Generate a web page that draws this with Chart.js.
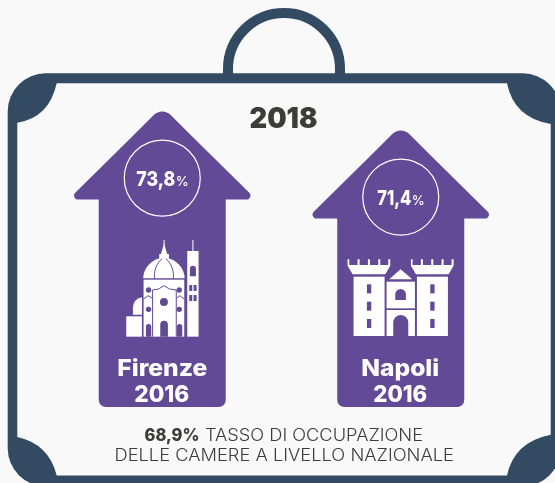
<!DOCTYPE html>
<html lang="it">
<head>
<meta charset="utf-8">
<title>Tasso di occupazione</title>
<script src="https://cdn.jsdelivr.net/npm/chart.js@4"></script>
<style>
html,body{margin:0;padding:0;background:#f9f9f9;}
canvas{display:block;}
</style>
</head>
<body>
<canvas id="c" width="555" height="483"></canvas>
<script>
const cities = ['Firenze', 'Napoli'];
const years = ['2016', '2016'];
const occupancy = [73.8, 71.4];
const nationalRate = [68.9];
const headline = ['2018'];
const footerLines = ['TASSO DI OCCUPAZIONE', 'DELLE CAMERE A LIVELLO NAZIONALE'];
const axisMin = 36.4;
const axisMax = 81.6;

const PURPLE = '#634a97', NAVY = '#334a63', INK = '#3c3c3b', PAPER = '#f9f9f9';
const FAMILY = 'Inter, "Open Sans", sans-serif';
const fmt = v => v.toFixed(1).replace('.', ',');

function fitText(ctx, text, left, baseline, width, font, color) {
  ctx.save();
  ctx.font = font;
  ctx.fillStyle = color;
  ctx.textAlign = 'left';
  ctx.textBaseline = 'alphabetic';
  const w = ctx.measureText(text).width;
  ctx.translate(left, baseline);
  ctx.scale(width / w, 1);
  ctx.fillText(text, 0, 0);
  ctx.restore();
}

class ArrowElement extends Chart.BarElement {
  draw(ctx) {
    const { x, y, base, width } = this.getProps(['x', 'y', 'base', 'width']);
    const half = width / 2, headHalf = 94, neck = y + 88, apex = y - 5;
    ctx.save();
    ctx.fillStyle = this.options.backgroundColor;
    ctx.beginPath();
    ctx.moveTo(x + 30, apex + 30);
    ctx.arcTo(x + headHalf, neck, x + half, neck, 4);
    ctx.lineTo(x + half, neck);
    ctx.arcTo(x + half, base, x - half, base, 7);
    ctx.arcTo(x - half, base, x - half, neck, 7);
    ctx.lineTo(x - half, neck);
    ctx.arcTo(x - headHalf, neck, x - 30, apex + 30, 4);
    ctx.lineTo(x - 30, apex + 30);
    ctx.arcTo(x, apex, x + 30, apex + 30, 12);
    ctx.closePath();
    ctx.fill();
    ctx.restore();
  }
}
ArrowElement.id = 'arrowElement';
ArrowElement.defaults = Chart.BarElement.defaults;

class ArrowController extends Chart.BarController {}
ArrowController.id = 'arrowBar';
ArrowController.defaults = Object.assign({}, Chart.BarController.defaults, { dataElementType: 'arrowElement' });
ArrowController.overrides = Chart.BarController.overrides;
Chart.register(ArrowElement, ArrowController);

function rect(ctx, a, b, c, d) { ctx.fillRect(a, b, c - a, d - b); }
function archWindow(ctx, x0, x1, top, bottom) {
  const r = (x1 - x0) / 2;
  ctx.beginPath();
  ctx.moveTo(x0, bottom);
  ctx.lineTo(x0, top + r);
  ctx.arc(x0 + r, top + r, r, Math.PI, 0);
  ctx.lineTo(x1, bottom);
  ctx.closePath();
  ctx.fill();
}
function dot(ctx, x, y, r) { ctx.beginPath(); ctx.arc(x, y, r, 0, Math.PI * 2); ctx.fill(); }

// Icon units are thirds of a pixel
function drawCathedral(ctx) {
  ctx.fillStyle = '#fff';
  ctx.fillRect(130, 15, 3, 16);
  ctx.beginPath(); ctx.moveTo(131.5, 25); ctx.lineTo(141, 58); ctx.lineTo(122, 58); ctx.closePath(); ctx.fill();
  rect(ctx, 117, 57, 146, 72);
  ctx.beginPath();
  ctx.moveTo(69, 130);
  ctx.bezierCurveTo(69, 95, 100, 68, 131, 68);
  ctx.bezierCurveTo(162, 68, 193, 95, 193, 130);
  ctx.closePath(); ctx.fill();
  rect(ctx, 70, 134, 192, 305);
  // apse
  ctx.beginPath(); ctx.moveTo(38, 239); ctx.lineTo(38, 218); ctx.quadraticCurveTo(40, 192, 65, 187); ctx.lineTo(65, 239); ctx.closePath(); ctx.fill();
  rect(ctx, 18, 244, 65, 305);
  // campanile
  rect(ctx, 216.5, 15, 219.5, 48);
  rect(ctx, 201, 48, 235, 305);
  // purple details
  ctx.fillStyle = PURPLE;
  ctx.strokeStyle = PURPLE;
  ctx.lineWidth = 3;
  ctx.beginPath(); ctx.moveTo(103, 132); ctx.bezierCurveTo(100, 110, 108, 85, 125, 71); ctx.moveTo(159, 132); ctx.bezierCurveTo(162, 110, 154, 85, 137, 71); ctx.stroke();
  ctx.beginPath();
  ctx.moveTo(97, 305); ctx.lineTo(97, 165); ctx.lineTo(115, 162); ctx.lineTo(131, 152); ctx.lineTo(148, 162); ctx.lineTo(168, 165); ctx.lineTo(168, 305);
  ctx.moveTo(70, 192); ctx.lineTo(83, 182); ctx.lineTo(97, 190);
  ctx.moveTo(168, 190); ctx.lineTo(179, 182); ctx.lineTo(192, 192);
  ctx.stroke();
  dot(ctx, 131, 201, 12);
  dot(ctx, 85, 165, 8); dot(ctx, 177, 165, 8); dot(ctx, 85, 223, 8); dot(ctx, 177, 223, 8);
  archWindow(ctx, 120, 143, 257, 305);
  archWindow(ctx, 77, 93, 267, 305);
  archWindow(ctx, 170, 186, 267, 305);
  archWindow(ctx, 209, 227, 92, 124);
  rect(ctx, 207, 150, 216, 168); rect(ctx, 220, 150, 229, 168);
  rect(ctx, 207, 180, 216, 198); rect(ctx, 220, 180, 229, 198);
}
function drawCrown(ctx, o) {
  ctx.fillStyle = '#fff';
  ctx.beginPath();
  ctx.moveTo(o, 28); ctx.lineTo(o + 5, 28); ctx.lineTo(o + 5, 45); ctx.lineTo(o + 30, 45); ctx.lineTo(o + 30, 28); ctx.lineTo(o + 36, 28);
  ctx.lineTo(o + 36, 45); ctx.lineTo(o + 61, 45); ctx.lineTo(o + 61, 28); ctx.lineTo(o + 67, 28); ctx.lineTo(o + 67, 45);
  ctx.lineTo(o + 92, 45); ctx.lineTo(o + 92, 28); ctx.lineTo(o + 98, 28); ctx.lineTo(o + 98, 45); ctx.lineTo(o + 122, 45); ctx.lineTo(o + 122, 28); ctx.lineTo(o + 128, 28);
  ctx.lineTo(o + 128, 47); ctx.lineTo(o + 113, 73); ctx.lineTo(o + 15, 73); ctx.lineTo(o, 47);
  ctx.closePath(); ctx.fill();
}
function drawCastle(ctx) {
  drawCrown(ctx, 22);
  drawCrown(ctx, 212);
  ctx.fillStyle = '#fff';
  rect(ctx, 40, 80, 133, 258);
  rect(ctx, 230, 80, 323, 258);
  rect(ctx, 139, 95, 224, 175);
  rect(ctx, 139, 180, 224, 258);
  ctx.beginPath(); ctx.moveTo(181, 58); ctx.lineTo(216, 88); ctx.lineTo(147, 88); ctx.closePath(); ctx.fill();
  ctx.fillStyle = PURPLE;
  [103, 155, 207].forEach(t => { rect(ctx, 80, t, 93, t + 27); rect(ctx, 270, t, 283, t + 27); });
  ctx.beginPath(); ctx.moveTo(165, 150); ctx.lineTo(165, 133); ctx.arc(181, 133, 16, Math.PI, 0); ctx.lineTo(197, 150); ctx.closePath(); ctx.fill();
  archWindow(ctx, 159, 204, 195, 258);
}
const icons = [
  { draw: drawCathedral, dx: -42, dy: -172 },
  { draw: drawCastle, dx: -60.5, dy: -157 }
];
const labelLayout = [
  { nameL: -45, nameW: 90, yearL: -28, yearW: 55, pctL: -26, pctW: 39, pctSignW: 13 },
  { nameL: -39.5, nameW: 78, yearL: -27.5, yearW: 54, pctL: -23.5, pctW: 34, pctSignW: 13 }
];

const decorPlugin = {
  id: 'suitcase',
  beforeDraw(chart) {
    const ctx = chart.ctx;
    ctx.save();
    ctx.fillStyle = PAPER;
    ctx.fillRect(0, 0, chart.width, chart.height);
    // handle
    ctx.strokeStyle = NAVY;
    ctx.lineWidth = 10;
    ctx.beginPath();
    ctx.moveTo(228, 78);
    ctx.lineTo(228, 69);
    ctx.arc(284, 69, 56, Math.PI, 0);
    ctx.lineTo(340, 78);
    ctx.stroke();
    // shell
    ctx.fillStyle = NAVY;
    ctx.beginPath();
    ctx.roundRect(7.7, 73.3, 553, 413, 38);
    ctx.fill();
    ctx.fillStyle = PAPER;
    ctx.beginPath();
    ctx.moveTo(56.7, 83.3);
    ctx.lineTo(507, 83.3);
    ctx.quadraticCurveTo(514, 118, 550.7, 124);
    ctx.lineTo(550.7, 434.7);
    ctx.quadraticCurveTo(514, 442, 507, 475.5);
    ctx.lineTo(56.7, 475.5);
    ctx.quadraticCurveTo(49, 444, 17.3, 437);
    ctx.lineTo(17.3, 122.7);
    ctx.quadraticCurveTo(49, 118, 56.7, 83.3);
    ctx.closePath();
    ctx.fill();
    ctx.restore();
  },
  afterDatasetsDraw(chart) {
    const ctx = chart.ctx;
    const bars = chart.getDatasetMeta(0).data;
    bars.forEach((bar, i) => {
      const L = labelLayout[i];
      const ic = icons[i];
      ctx.save();
      ctx.translate(bar.x + ic.dx, bar.base + ic.dy);
      ctx.scale(1 / 3, 1 / 3);
      ic.draw(ctx);
      ctx.restore();

      const cy = bar.y + 66.5;
      ctx.save();
      ctx.strokeStyle = '#fff';
      ctx.lineWidth = 1.2;
      ctx.beginPath();
      ctx.arc(bar.x, cy, 38, 0, Math.PI * 2);
      ctx.stroke();
      ctx.restore();

      fitText(ctx, fmt(occupancy[i]), bar.x + L.pctL, cy + 7.5, L.pctW, '800 20.5px ' + FAMILY, '#fff');
      fitText(ctx, '%', bar.x + L.pctL + L.pctW + 0.5, cy + 7.5, L.pctSignW, '500 12.5px ' + FAMILY, '#fff');
      fitText(ctx, cities[i], bar.x + L.nameL, bar.base - 31.5, L.nameW, '800 23px ' + FAMILY, '#fff');
      fitText(ctx, years[i], bar.x + L.yearL, bar.base - 5, L.yearW, '800 23px ' + FAMILY, '#fff');
    });
    fitText(ctx, headline[0], 249.5, 128, 68, '900 28px ' + FAMILY, INK);
    fitText(ctx, fmt(nationalRate[0]) + '%', 144.5, 441, 55, '800 17px ' + FAMILY, INK);
    fitText(ctx, footerLines[0], 205, 441, 218, '300 17px ' + FAMILY, INK);
    fitText(ctx, footerLines[1], 114.5, 461, 339.5, '300 17px ' + FAMILY, INK);
  }
};

new Chart(document.getElementById('c'), {
  type: 'arrowBar',
  data: {
    labels: cities,
    datasets: [{ data: occupancy, base: axisMin, clip: false, backgroundColor: PURPLE, barThickness: 127 }]
  },
  options: {
    responsive: false,
    animation: false,
    layout: { padding: { left: 43, right: 35, top: 50, bottom: 76 } },
    plugins: { legend: { display: false }, tooltip: { enabled: false }, title: { display: false } },
    scales: {
      x: { type: 'category', display: false },
      y: { type: 'linear', display: false, min: axisMin, max: axisMax }
    }
  },
  plugins: [decorPlugin]
});
</script>
</body>
</html>
